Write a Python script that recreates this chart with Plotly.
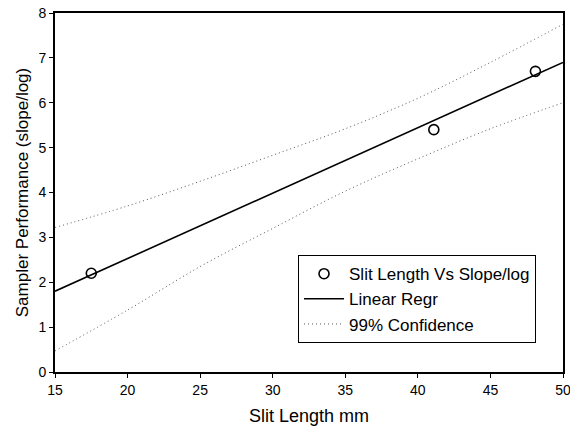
import plotly.graph_objects as go

# Data
slit_length = [17.5, 41.1, 48.1]
slope_log = [2.2, 5.4, 6.7]

regr_x = [15, 50]
regr_y = [1.8, 6.9]

conf_x = [15, 20, 25, 30, 35, 40, 45, 50]
conf_upper = [3.22, 3.70, 4.25, 4.83, 5.42, 6.1, 6.9, 7.75]
conf_lower = [0.47, 1.38, 2.35, 3.2, 4.03, 4.75, 5.42, 6.0]

x_ticks = [15, 20, 25, 30, 35, 40, 45, 50]
y_ticks = [0, 1, 2, 3, 4, 5, 6, 7, 8]

FONT = "Liberation Sans, Arial, Helvetica, sans-serif"

fig = go.Figure()

fig.add_trace(go.Scatter(
    x=slit_length, y=slope_log, mode="markers",
    name="Slit Length Vs Slope/log",
    marker=dict(symbol="circle-open", size=10, color="black", line=dict(width=1.6, color="black")),
))
fig.add_trace(go.Scatter(
    x=regr_x, y=regr_y, mode="lines", name="Linear Regr",
    line=dict(color="black", width=1.6),
))
fig.add_trace(go.Scatter(
    x=conf_x, y=conf_upper, mode="lines", name="99% Confidence",
    line=dict(color="#555555", width=1, dash="1px,3px", shape="spline"),
    legendgroup="conf",
))
fig.add_trace(go.Scatter(
    x=conf_x, y=conf_lower, mode="lines", name="99% Confidence",
    line=dict(color="#555555", width=1, dash="1px,3px", shape="spline"),
    legendgroup="conf", showlegend=False,
))

axis_common = dict(
    showline=True, linecolor="black", linewidth=1.6, mirror=True,
    ticks="outside", ticklen=4, tickwidth=1.2, tickcolor="black",
    showgrid=False, zeroline=False, automargin=False,
    ticklabeloverflow="allow",
    tickfont=dict(family=FONT, size=14, color="black"),
)

fig.update_layout(
    width=570, height=426,
    margin=dict(l=55, r=7, t=13, b=54),
    paper_bgcolor="white", plot_bgcolor="white",
    font=dict(family=FONT, color="black"),
    showlegend=True,
    legend=dict(
        x=0.478, y=0.326, xanchor="left", yanchor="top",
        bordercolor="black", borderwidth=1.2, bgcolor="white",
        font=dict(family=FONT, size=17, color="black"),
        tracegroupgap=0, itemwidth=40,
    ),
    xaxis=dict(
        range=[15, 50], tickvals=x_ticks,
        title=dict(text="Slit Length mm", font=dict(family=FONT, size=18), standoff=13),
        **axis_common,
    ),
    yaxis=dict(
        range=[0, 8], tickvals=y_ticks,
        title=dict(text="Sampler Performance (slope/log)", font=dict(family=FONT, size=17), standoff=6),
        **axis_common,
    ),
)

fig.write_html("out.html")
